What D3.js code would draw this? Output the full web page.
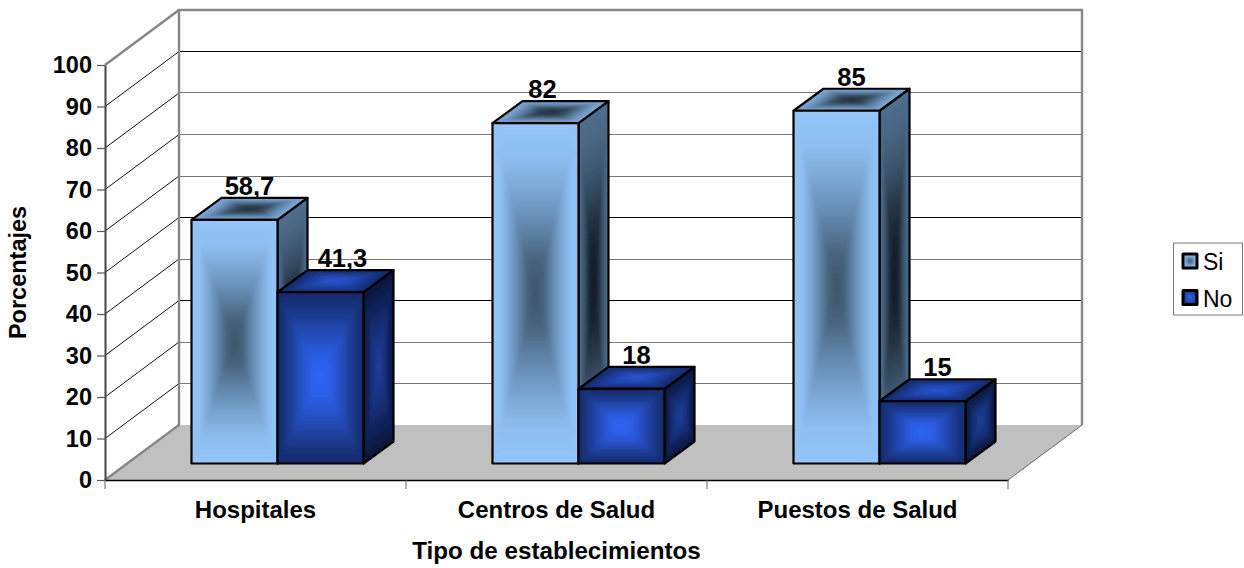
<!DOCTYPE html>
<html>
<head>
	<script src="https://cdnjs.cloudflare.com/ajax/libs/d3/7.8.2/d3.min.js"></script>
	<style>
		html, body { margin: 0; background: #fff; }
		svg { display: block; }
		text { font-family: "Liberation Sans", Arial, sans-serif; fill: #000; }
	</style>
</head>
<body>
	<svg id="canvas"></svg>
<script>
	let categories = [ 'Hospitales', 'Centros de Salud', 'Puestos de Salud' ] ;
	let series = [ 'Si', 'No' ] ;
	let si_values = [ 58.7, 82, 85 ] ;
	let no_values = [ 41.3, 18, 15 ] ;
	let value_labels = [ [ '58,7', '82', '85' ], [ '41,3', '18', '15' ] ] ;
	let y_ticks = [ 0, 10, 20, 30, 40, 50, 60, 70, 80, 90, 100 ] ;

	let geom = {
		width: 1244, height: 568,
		left: 105, right: 1008, floor: 480, top: 65,
		wall: { dx: 74, dy: -55 },     // front of the floor to the back wall
		bar: { dx: 30, dy: -22 },      // depth of one bar
		inset: { dx: 22, dy: -16.5 },  // front of the floor to the front of the bars
		bar_width: 86
	} ;

	// the labels are not quite centred in the original
	let label_nudge = [ [ 0, -8, 0 ], [ 7, 0, 0 ] ] ;
	// these grid lines come out black in the original, the others grey
	let black_grid = [ 90, 50, 30 ] ;

	// edge to centre colours of the shaded faces
	let shades = {
		Si: {
			front: [ '#94c6fb', '#8ebef2', '#7ba6d2', '#6288ae', '#4a657f', '#3c5269' ],
			side: [ '#4f6f8e', '#47647f', '#3a526a', '#263646', '#18222d', '#121a22' ],
			top: [ '#7fabd8', '#7099c4', '#587a9c', '#3d5469', '#2a3a4a', '#22303c' ]
		},
		No: {
			front: [ '#142868', '#1a3684', '#2145a8', '#2853cc', '#2d5fe9', '#2f64f7' ],
			side: [ '#0a1538', '#0e1e50', '#122766', '#16307c', '#1a398e', '#1b3b98' ],
			top: [ '#132768', '#17317e', '#1c3c98', '#2147b0', '#254fc4', '#2856d2' ]
		}
	} ;

	let svg = d3.select( 'svg' )
		.attr( 'width', geom.width )
		.attr( 'height', geom.height ) ;
	let defs = svg.append( 'defs' ) ;
	defs.append( 'filter' )
		.attr( 'id', 'soft' )
		.attr( 'x', '-10%' ).attr( 'y', '-10%' )
		.attr( 'width', '120%' ).attr( 'height', '120%' )
		.append( 'feGaussianBlur' )
		.attr( 'stdDeviation', 1.3 ) ;

	let x = d3.scaleBand()
		.domain( categories )
		.range( [ geom.left, geom.right ] ) ;
	let y = d3.scaleLinear()
		.domain( [ 0, 100 ] )
		.range( [ geom.floor, geom.top ] ) ;
	let x_series = d3.scaleBand()
		.domain( series )
		.range( [ 0, geom.bar_width * 2 ] ) ;

	let points = function( p ) {
		return p.map( d => d.join( ',' ) ).join( ' ' ) ;
	} ;

	// floor and walls
	let wall_grey = '#868686' ;
	let w = geom.wall ;
	svg.append( 'polygon' )
		.attr( 'points', points( [
			[ geom.left, geom.floor ], [ geom.left + w.dx, geom.floor + w.dy ],
			[ geom.right + w.dx, geom.floor + w.dy ], [ geom.right, geom.floor ]
		] ) )
		.attr( 'fill', '#c0c0c0' ) ;

	// grid lines on the side and back walls
	let grid = svg.append( 'g' ).attr( 'stroke-width', 1 ) ;
	y_ticks.filter( d => d > 0 && d < 100 ).forEach( function( t ) {
		grid.append( 'line' )
			.attr( 'x1', geom.left ).attr( 'y1', y( t ) )
			.attr( 'x2', geom.left + w.dx ).attr( 'y2', y( t ) + w.dy )
			.attr( 'stroke', '#111' ) ;
		grid.append( 'line' )
			.attr( 'x1', geom.left + w.dx ).attr( 'y1', Math.floor( y( t ) + w.dy ) + 0.5 )
			.attr( 'x2', geom.right + w.dx ).attr( 'y2', Math.floor( y( t ) + w.dy ) + 0.5 )
			.attr( 'stroke', black_grid.includes( t ) ? '#000' : '#777' ) ;
	} ) ;

	let walls = svg.append( 'g' ).attr( 'stroke', wall_grey ).attr( 'fill', 'none' ).attr( 'stroke-width', 2.4 ) ;
	walls.append( 'polyline' )
		.attr( 'points', points( [
			[ geom.left, y( 100 ) ],
			[ geom.left + w.dx, y( 100 ) + w.dy ],
			[ geom.right + w.dx, y( 100 ) + w.dy ],
			[ geom.right + w.dx, y( 0 ) + w.dy ]
		] ) ) ;
	walls.append( 'polyline' )
		.attr( 'points', points( [
			[ geom.left, y( 0 ) ],
			[ geom.left + w.dx, y( 0 ) + w.dy ],
			[ geom.left + w.dx, y( 100 ) + w.dy ]
		] ) ) ;
	svg.append( 'line' )
		.attr( 'x1', geom.right ).attr( 'y1', y( 0 ) )
		.attr( 'x2', geom.right + w.dx ).attr( 'y2', y( 0 ) + w.dy )
		.attr( 'stroke', '#666' ) ;

	// rectangular "from centre" shading: four triangles, each with its own gradient,
	// softened a little so the creases do not look cut
	let grad_id = 0 ;
	let shadedFace = function( g, corners, stops, stroke_width ) {
		let cx = d3.mean( corners, d => d[ 0 ] ) ;
		let cy = d3.mean( corners, d => d[ 1 ] ) ;
		let clip_id = 'clip' + ( grad_id++ ) ;
		defs.append( 'clipPath' )
			.attr( 'id', clip_id )
			.append( 'polygon' )
			.attr( 'points', points( corners ) ) ;
		let clipped = g.append( 'g' ).attr( 'clip-path', 'url(#' + clip_id + ')' ) ;
		clipped.append( 'polygon' )
			.attr( 'points', points( corners ) )
			.attr( 'fill', stops[ 0 ] ) ;
		let soft = clipped.append( 'g' ).attr( 'filter', 'url(#soft)' ) ;
		corners.forEach( function( a, i ) {
			let b = corners[ ( i + 1 ) % 4 ] ;
			let ex = b[ 0 ] - a[ 0 ], ey = b[ 1 ] - a[ 1 ] ;
			let t = ( ( cx - a[ 0 ] ) * ex + ( cy - a[ 1 ] ) * ey ) / ( ex * ex + ey * ey ) ;
			let id = 'shade' + ( grad_id++ ) ;
			let grad = defs.append( 'linearGradient' )
				.attr( 'id', id )
				.attr( 'gradientUnits', 'userSpaceOnUse' )
				.attr( 'x1', a[ 0 ] + t * ex ).attr( 'y1', a[ 1 ] + t * ey )
				.attr( 'x2', cx ).attr( 'y2', cy ) ;
			stops.forEach( function( c, j ) {
				grad.append( 'stop' )
					.attr( 'offset', j / ( stops.length - 1 ) )
					.attr( 'stop-color', c ) ;
			} ) ;
			soft.append( 'polygon' )
				.attr( 'points', points( [ a, b, [ cx, cy ] ] ) )
				.attr( 'fill', 'url(#' + id + ')' )
				.attr( 'stroke', 'url(#' + id + ')' )
				.attr( 'stroke-width', 0.6 ) ;
		} ) ;
		g.append( 'polygon' )
			.attr( 'points', points( corners ) )
			.attr( 'fill', 'none' )
			.attr( 'stroke', '#000' )
			.attr( 'stroke-width', stroke_width )
			.attr( 'stroke-linejoin', 'round' ) ;
	} ;

	let drawBar = function( g, x0, base, top, width, stops ) {
		let d = geom.bar ;
		shadedFace( g, [ [ x0 + width, top ], [ x0 + width + d.dx, top + d.dy ], [ x0 + width + d.dx, base + d.dy ], [ x0 + width, base ] ], stops.side, 2.2 ) ;
		shadedFace( g, [ [ x0, top ], [ x0 + d.dx, top + d.dy ], [ x0 + width + d.dx, top + d.dy ], [ x0 + width, top ] ], stops.top, 2.2 ) ;
		shadedFace( g, [ [ x0, top ], [ x0 + width, top ], [ x0 + width, base ], [ x0, base ] ], stops.front, 2.2 ) ;
	} ;

	let all_values = [ si_values, no_values ] ;
	let bars = svg.append( 'g' ) ;
	categories.forEach( function( c, i ) {
		series.forEach( function( s, k ) {
			let x0 = x( c ) + x.bandwidth() / 2 + geom.inset.dx - geom.bar_width + x_series( s ) ;
			let base = y( 0 ) + geom.inset.dy ;
			let top = y( all_values[ k ][ i ] ) + geom.inset.dy ;
			drawBar( bars.append( 'g' ), x0, base, top, x_series.bandwidth(), shades[ s ] ) ;
		} ) ;
	} ) ;

	// value labels go over all the bars
	categories.forEach( function( c, i ) {
		series.forEach( function( s, k ) {
			let x0 = x( c ) + x.bandwidth() / 2 + geom.inset.dx - geom.bar_width + x_series( s ) ;
			let top = y( all_values[ k ][ i ] ) + geom.inset.dy ;
			svg.append( 'text' )
				.attr( 'x', x0 + x_series.bandwidth() / 2 + geom.bar.dx / 2 + label_nudge[ k ][ i ] )
				.attr( 'y', top + geom.bar.dy - 3 )
				.attr( 'text-anchor', 'middle' )
				.attr( 'font-size', 25.5 )
				.attr( 'font-weight', 'bold' )
				.text( value_labels[ k ][ i ] ) ;
		} ) ;
	} ) ;

	// axes
	let yaxis = svg.append( 'g' )
		.attr( 'transform', 'translate(' + geom.left + ',0)' )
		.call( d3.axisLeft( y ).tickValues( y_ticks ).tickSize( 8 ).tickPadding( 5 ).tickSizeOuter( 0 ) ) ;
	yaxis.select( 'path' ).attr( 'stroke', '#444' ).attr( 'stroke-width', 2 ) ;
	yaxis.selectAll( 'line' ).attr( 'stroke', '#555' ).attr( 'stroke-width', 1.2 ) ;
	yaxis.selectAll( 'text' )
		.attr( 'font-family', '"Liberation Sans", Arial, sans-serif' )
		.attr( 'font-size', 23.5 )
		.attr( 'font-weight', 'bold' ) ;

	let xaxis = svg.append( 'g' )
		.attr( 'transform', 'translate(0,' + geom.floor + ')' )
		.call( d3.axisBottom( x ).tickSize( 9 ).tickPadding( 12 ).tickSizeOuter( 0 ).tickFormat( d => d ) ) ;
	xaxis.selectAll( '.tick line' ).remove() ;
	xaxis.select( 'path' ).attr( 'stroke', '#000' ).attr( 'stroke-width', 1.4 ) ;
	xaxis.selectAll( 'text' )
		.attr( 'font-family', '"Liberation Sans", Arial, sans-serif' )
		.attr( 'font-size', 24 )
		.attr( 'font-weight', 'bold' ) ;
	// ticks sit between the categories
	let x_edges = categories.map( c => x( c ) ).concat( [ geom.right ] ) ;
	xaxis.selectAll( 'line.edge' )
		.data( x_edges )
		.join( 'line' )
		.attr( 'class', 'edge' )
		.attr( 'x1', d => d ).attr( 'x2', d => d )
		.attr( 'y1', 0 ).attr( 'y2', 9 )
		.attr( 'stroke', '#666' ) ;

	svg.append( 'text' )
		.attr( 'x', 556.5 ).attr( 'y', 559 )
		.attr( 'text-anchor', 'middle' )
		.attr( 'font-size', 24.2 )
		.attr( 'font-weight', 'bold' )
		.text( 'Tipo de establecimientos' ) ;
	svg.append( 'text' )
		.attr( 'transform', 'translate(26,272.5) rotate(-90)' )
		.attr( 'text-anchor', 'middle' )
		.attr( 'font-size', 23.5 )
		.attr( 'font-weight', 'bold' )
		.text( 'Porcentajes' ) ;

	// legend
	let legend = svg.append( 'g' ) ;
	legend.append( 'rect' )
		.attr( 'x', 1173.5 ).attr( 'y', 243 )
		.attr( 'width', 69 ).attr( 'height', 72 )
		.attr( 'fill', '#fff' )
		.attr( 'stroke', '#777' ) ;
	series.forEach( function( s, k ) {
		let top = 254 + k * 36.5 ;
		shadedFace( legend.append( 'g' ), [ [ 1183, top ], [ 1197, top ], [ 1197, top + 14 ], [ 1183, top + 14 ] ], shades[ s ].front, 3 ) ;
		legend.append( 'text' )
			.attr( 'x', 1203 ).attr( 'y', top + 16 )
			.attr( 'font-size', 23 )
			.text( s ) ;
	} ) ;
</script>
</body>
</html>
